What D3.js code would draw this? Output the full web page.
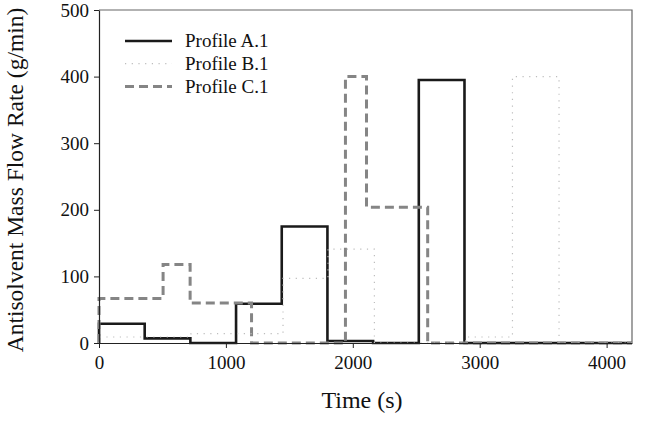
<!DOCTYPE html>
<html>
<head>
<meta charset="utf-8">
<script src="https://cdn.jsdelivr.net/npm/d3@7"></script>
<style>
  body { margin: 0; background: #fff; }
  svg { display: block; font-family: "Liberation Serif", "DejaVu Serif", serif; }
  svg text { font-family: "Liberation Serif", "DejaVu Serif", serif !important; }
</style>
</head>
<body>
<svg id="chart"></svg>
<script>
// step profiles: start times (s) and rate (g/min) held until next time
const timesA = [0, 360, 720, 1080, 1440, 1800, 2160, 2520, 2880, 4200];
const valuesA = [29, 7, 0, 59, 175, 3, 0, 395, 0, 0];

const timesB = [0, 725, 1450, 1805, 2170, 2890, 3258, 3625, 4200];
const valuesB = [9, 14, 97, 141, 0, 9, 400, 0, 0];

const timesC = [0, 505, 718, 1202, 1942, 2108, 2590, 4200];
const valuesC = [67, 118, 60, 0, 400, 204, 0, 0];

const xTicks = [0, 1000, 2000, 3000, 4000];
const yTicks = [0, 100, 200, 300, 400, 500];

const width = 646,
  height = 421;

const svg = d3.select("#chart").attr("width", width).attr("height", height);

const x = d3.scaleLinear().domain([0, 4200]).range([99, 632]);
const y = d3.scaleLinear().domain([0, 500]).range([343, 10]);

// build step points, starting from zero at t = 0
function stepPoints(times, values) {
  const pts = [[0, 0]];
  times.forEach((t, i) => pts.push([t, values[i]]));
  return pts;
}

const line = d3
  .line()
  .x(d => x(d[0]))
  .y(d => y(d[1]))
  .curve(d3.curveStepAfter);

// frame (top and right)
svg
  .append("path")
  .attr("d", `M${x(0)},${y(500)}H${x(4200)}V${y(0)}`)
  .attr("fill", "none")
  .attr("stroke", "#666")
  .attr("stroke-width", 1.2);

// series
svg
  .append("path")
  .datum(stepPoints(timesA, valuesA))
  .attr("d", line)
  .attr("fill", "none")
  .attr("stroke", "#1a1a1a")
  .attr("stroke-width", 2.6);

svg
  .append("path")
  .datum(stepPoints(timesC, valuesC))
  .attr("d", line)
  .attr("fill", "none")
  .attr("stroke", "#858585")
  .attr("stroke-width", 3)
  .attr("stroke-dasharray", "9,5");

svg
  .append("path")
  .datum(stepPoints(timesB, valuesB))
  .attr("d", line)
  .attr("fill", "none")
  .attr("stroke", "#bdbdbd")
  .attr("stroke-width", 1.2)
  .attr("stroke-dasharray", "1.2,5.5");

// axes
const xAxis = svg
  .append("g")
  .attr("transform", `translate(0,${y(0)})`)
  .call(
    d3.axisBottom(x)
      .tickValues(xTicks)
      .tickFormat(d3.format("d"))
      .tickSize(5)
      .tickSizeOuter(0)
      .tickPadding(8)
  );
const yAxis = svg
  .append("g")
  .attr("transform", `translate(${x(0)},0)`)
  .call(
    d3.axisLeft(y)
      .tickValues(yTicks)
      .tickFormat(d3.format("d"))
      .tickSize(5)
      .tickSizeOuter(0)
      .tickPadding(5)
  );

[xAxis, yAxis].forEach(g => {
  g.attr("font-family", null).attr("font-size", 19);
  g.select(".domain").attr("stroke", "#222").attr("stroke-width", 1.2);
  g.selectAll(".tick line").attr("stroke", "#222");
  g.selectAll(".tick text").attr("fill", "#111");
});

// axis titles
svg
  .append("text")
  .attr("x", 362)
  .attr("y", 408)
  .attr("text-anchor", "middle")
  .style("font-size", "24px")
  .attr("fill", "#111")
  .text("Time (s)");

svg
  .append("text")
  .attr("transform", "translate(23,180) rotate(-90)")
  .attr("text-anchor", "middle")
  .style("font-size", "23.5px")
  .attr("fill", "#111")
  .text("Antisolvent Mass Flow Rate (g/min)");

// legend
const legendItems = [
  { name: "Profile A.1", stroke: "#1a1a1a", w: 2.6, dash: null },
  { name: "Profile B.1", stroke: "#bdbdbd", w: 1.2, dash: "1.2,5.5" },
  { name: "Profile C.1", stroke: "#858585", w: 3, dash: "9,5" }
];

const legend = svg
  .selectAll(".legend")
  .data(legendItems)
  .enter()
  .append("g")
  .attr("class", "legend")
  .attr("transform", (d, i) => `translate(125,${41 + i * 22.7})`);

legend
  .append("line")
  .attr("x1", 0)
  .attr("x2", 47)
  .attr("stroke", d => d.stroke)
  .attr("stroke-width", d => d.w)
  .attr("stroke-dasharray", d => d.dash);

legend
  .append("text")
  .attr("x", 60)
  .attr("dy", "0.34em")
  .style("font-size", "19px")
  .attr("fill", "#111")
  .text(d => d.name);
</script>
</body>
</html>
